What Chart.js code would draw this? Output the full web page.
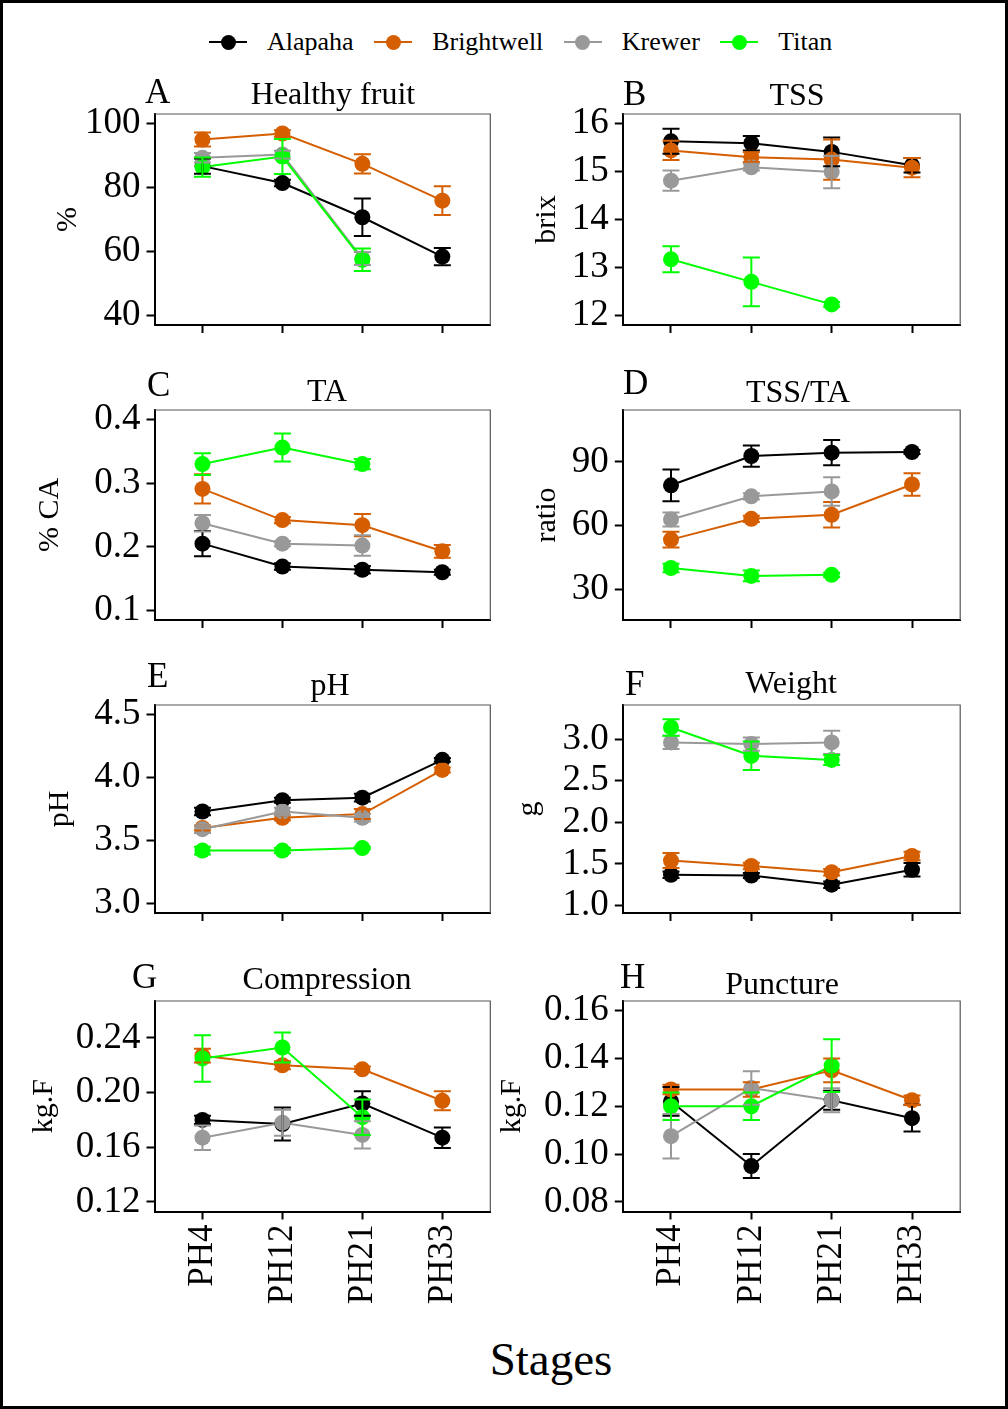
<!DOCTYPE html>
<html>
<head>
<meta charset="utf-8">
<script src="https://cdn.jsdelivr.net/npm/chart.js@4.4.1/dist/chart.umd.min.js"></script>
<style>
  html, body { margin: 0; padding: 0; background: #fff; }
  #page { position: relative; width: 1008px; height: 1409px; overflow: hidden;
          font-family: "Liberation Serif", "Times New Roman", serif; color: #000; }
  #frame { position: absolute; left: 0; top: 0; width: 1008px; height: 1409px;
           box-sizing: border-box; border: 3px solid #000; pointer-events: none; z-index: 5; }
  canvas { position: absolute; }
  #legend { position: absolute; left: 209px; top: 29px; height: 26px; display: flex; align-items: center; }
  .lg-icon { position: relative; width: 38px; height: 15px; }
  .lg-line { position: absolute; left: 0; top: 6.5px; width: 38px; height: 2px; }
  .lg-dot { position: absolute; left: 11.5px; top: 0; width: 15px; height: 15px; border-radius: 50%; }
  .lg-text { font-size: 26px; line-height: 26px; margin-left: 20px; margin-right: 20.5px; white-space: nowrap; }
  #stages { position: absolute; left: 451px; width: 200px; top: 1336px; text-align: center;
            font-size: 47px; line-height: 47px; }
</style>
</head>
<body>
<div id="page">
  <div id="legend"></div>
  <div id="stages">Stages</div>
  <div id="frame"></div>
</div>
<script>
// ---- categories ----
const stages = ['PH4', 'PH12', 'PH21', 'PH33'];
const cultivars = ['Alapaha', 'Brightwell', 'Krewer', 'Titan'];
const cultivarColors = ['#000000', '#D55E00', '#999999', '#00FF00'];

// ---- means and standard errors (rows: Alapaha, Brightwell, Krewer, Titan) ----
const healthyMean = [[86.7, 81.4, 70.7, 58.4], [95.0, 96.9, 87.4, 75.9], [89.3, 90.3, 57.8, null], [86.4, 89.7, 57.4, null]];
const healthySE   = [[2.4, 1.0, 5.9, 2.7], [2.2, 1.0, 3.0, 4.5], [1.5, 1.2, 2.0, null], [3.0, 5.5, 3.5, null]];
const healthyTicks = [40, 60, 80, 100];

const tssMean = [[15.63, 15.59, 15.41, 15.13], [15.44, 15.30, 15.25, 15.08], [14.81, 15.09, 14.99, null], [13.17, 12.70, 12.23, null]];
const tssSE   = [[0.26, 0.15, 0.30, 0.15], [0.20, 0.10, 0.42, 0.20], [0.21, 0.07, 0.34, null], [0.27, 0.51, 0.05, null]];
const tssTicks = [12, 13, 14, 15, 16];

const taMean = [[0.205, 0.169, 0.164, 0.160], [0.291, 0.242, 0.234, 0.193], [0.237, 0.205, 0.202, null], [0.330, 0.356, 0.330, null]];
const taSE   = [[0.020, 0.005, 0.006, 0.004], [0.023, 0.005, 0.0175, 0.010], [0.013, 0.004, 0.016, null], [0.017, 0.022, 0.008, null]];
const taTicks = [0.1, 0.2, 0.3, 0.4];

const ratioMean = [[79.0, 92.8, 94.4, 94.7], [53.4, 63.2, 65.1, 79.4], [62.9, 73.8, 76.1, null], [40.0, 36.3, 36.8, null]];
const ratioSE   = [[7.5, 5.0, 6.0, 1.0], [3.7, 1.5, 6.0, 5.3], [3.3, 1.5, 6.7, null], [2.0, 2.5, 1.0, null]];
const ratioTicks = [30, 60, 90];

const phMean = [[3.73, 3.82, 3.84, 4.14], [3.60, 3.68, 3.71, 4.06], [3.59, 3.73, 3.68, null], [3.42, 3.42, 3.44, null]];
const phSE   = [[0.03, 0.02, 0.03, 0.015], [0.02, 0.02, 0.04, 0.02], [0.03, 0.03, 0.03, null], [0.03, 0.02, 0.01, null]];
const phTicks = [3.0, 3.5, 4.0, 4.5];

const weightMean = [[1.37, 1.36, 1.25, 1.43], [1.54, 1.475, 1.40, 1.595], [2.96, 2.94, 2.96, null], [3.14, 2.80, 2.75, null]];
const weightSE   = [[0.04, 0.03, 0.04, 0.08], [0.09, 0.04, 0.04, 0.05], [0.08, 0.08, 0.14, null], [0.10, 0.17, 0.06, null]];
const weightTicks = [1.0, 1.5, 2.0, 2.5, 3.0];

const compMean = [[0.180, 0.177, 0.192, 0.167], [0.227, 0.220, 0.217, 0.194], [0.167, 0.178, 0.169, null], [0.225, 0.233, 0.182, null]];
const compSE   = [[0.003, 0.012, 0.009, 0.0075], [0.005, 0.003, 0.002, 0.007], [0.009, 0.0095, 0.010, null], [0.017, 0.011, 0.013, null]];
const compTicks = [0.12, 0.16, 0.20, 0.24];

const punctMean = [[0.122, 0.095, 0.1225, 0.115], [0.127, 0.127, 0.135, 0.1225], [0.1075, 0.1276, 0.1225, null], [0.120, 0.120, 0.137, null]];
const punctSE   = [[0.006, 0.005, 0.004, 0.0056], [0.002, 0.003, 0.005, 0.002], [0.0093, 0.007, 0.005, null], [0.0057, 0.0057, 0.011, null]];
const punctTicks = [0.08, 0.10, 0.12, 0.14, 0.16];

// ---- page geometry ----
const FONT = '"Liberation Serif", "Times New Roman", serif';
const colGeo = [
  { canvasX: 5,   canvasW: 495, plotL: 154.5, plotR: 490.3 },
  { canvasX: 495, canvasW: 510, plotL: 622.8, plotR: 960.2 }
];
const rowGeo = [
  { top: 114,    bottom: 325 },
  { top: 410,    bottom: 620 },
  { top: 705,    bottom: 913 },
  { top: 1000.5, bottom: 1211 }
];

const panels = [
  { tag: 'A', title: 'Healthy fruit', yTitle: '%',    mean: healthyMean, se: healthySE, ticks: healthyTicks, min: 37,    max: 103,   dp: 0, col: 0, row: 0, yTitleX: 68,  tagX: 145, tagY: 103, titleX: 333, titleY: 104 },
  { tag: 'B', title: 'TSS',           yTitle: 'brix', mean: tssMean,     se: tssSE,     ticks: tssTicks,     min: 11.8,  max: 16.2,  dp: 0, col: 1, row: 0, yTitleX: 547, tagX: 623, tagY: 105, titleX: 797, titleY: 105 },
  { tag: 'C', title: 'TA',            yTitle: '% CA', mean: taMean,      se: taSE,      ticks: taTicks,      min: 0.085, max: 0.415, dp: 1, col: 0, row: 1, yTitleX: 50,  tagX: 147, tagY: 396, titleX: 327, titleY: 401 },
  { tag: 'D', title: 'TSS/TA',        yTitle: 'ratio',mean: ratioMean,   se: ratioSE,   ticks: ratioTicks,   min: 15.5,  max: 114.5, dp: 0, col: 1, row: 1, yTitleX: 547, tagX: 623, tagY: 394, titleX: 798, titleY: 402 },
  { tag: 'E', title: 'pH',            yTitle: 'pH',   mean: phMean,      se: phSE,      ticks: phTicks,      min: 2.925, max: 4.575, dp: 1, col: 0, row: 2, yTitleX: 60,  tagX: 147, tagY: 687, titleX: 330, titleY: 695 },
  { tag: 'F', title: 'Weight',        yTitle: 'g',    mean: weightMean,  se: weightSE,  ticks: weightTicks,  min: 0.91,  max: 3.41,  dp: 1, col: 1, row: 2, yTitleX: 529, tagX: 625, tagY: 695, titleX: 791, titleY: 693 },
  { tag: 'G', title: 'Compression',   yTitle: 'kg.F', mean: compMean,    se: compSE,    ticks: compTicks,    min: 0.113, max: 0.267, dp: 2, col: 0, row: 3, yTitleX: 44,  tagX: 132, tagY: 987, titleX: 327, titleY: 988 },
  { tag: 'H', title: 'Puncture',      yTitle: 'kg.F', mean: punctMean,   se: punctSE,   ticks: punctTicks,   min: 0.076, max: 0.164, dp: 2, col: 1, row: 3, yTitleX: 512, tagX: 620, tagY: 987, titleX: 782, titleY: 993 }
];

// ---- legend ----
const legendEl = document.getElementById('legend');
cultivars.forEach((name, c) => {
  const icon = document.createElement('span');
  icon.className = 'lg-icon';
  icon.innerHTML = '<span class="lg-line" style="background:' + cultivarColors[c] + '"></span>' +
                   '<span class="lg-dot" style="background:' + cultivarColors[c] + '"></span>';
  const txt = document.createElement('span');
  txt.className = 'lg-text';
  txt.textContent = name;
  legendEl.appendChild(icon);
  legendEl.appendChild(txt);
});

// ---- panel decoration: frame, error bars, tag and title ----
function makeDecor(p, ox, oy) {
  return {
    id: 'decor' + p.tag,
    beforeDatasetsDraw(chart) {
      const { ctx, chartArea: a } = chart;
      ctx.save();
      ctx.strokeStyle = '#555';
      ctx.lineWidth = 1.2;
      ctx.beginPath();
      ctx.moveTo(a.left, a.top);
      ctx.lineTo(a.right, a.top);
      ctx.lineTo(a.right, a.bottom);
      ctx.stroke();
      ctx.restore();
    },
    afterDatasetsDraw(chart) {
      const { ctx } = chart;
      const xs = chart.scales.x, ys = chart.scales.y;
      ctx.save();
      ctx.lineWidth = 2;
      cultivars.forEach((name, c) => {
        ctx.strokeStyle = cultivarColors[c];
        stages.forEach((s, i) => {
          const m = p.mean[c][i], e = p.se[c][i];
          if (m === null || e === null) return;
          const x = xs.getPixelForValue(i + 1);
          const y1 = ys.getPixelForValue(m + e);
          const y2 = ys.getPixelForValue(m - e);
          ctx.beginPath();
          ctx.moveTo(x, y1); ctx.lineTo(x, y2);
          ctx.moveTo(x - 8.5, y1); ctx.lineTo(x + 8.5, y1);
          ctx.moveTo(x - 8.5, y2); ctx.lineTo(x + 8.5, y2);
          ctx.stroke();
        });
      });
      ctx.restore();
    },
    afterDraw(chart) {
      const { ctx } = chart;
      ctx.save();
      ctx.fillStyle = '#000';
      ctx.textBaseline = 'alphabetic';
      ctx.font = '35px ' + FONT;
      ctx.textAlign = 'left';
      ctx.fillText(p.tag, p.tagX - ox, p.tagY - oy);
      ctx.font = '32px ' + FONT;
      ctx.textAlign = 'center';
      ctx.fillText(p.title, p.titleX - ox, p.titleY - oy);
      ctx.restore();
    }
  };
}

const page = document.getElementById('page');
panels.forEach(p => {
  const cg = colGeo[p.col], rg = rowGeo[p.row];
  const lastRow = p.row === 3;
  const canvasTop = rg.top - 64;
  const xh = lastRow ? 105 : 28;
  const canvasH = Math.round(rg.bottom - canvasTop + xh);
  const padTop = rg.top - canvasTop;
  const padRight = cg.canvasX + cg.canvasW - cg.plotR;
  const xHeight = canvasTop + canvasH - rg.bottom;

  const cv = document.createElement('canvas');
  cv.width = cg.canvasW; cv.height = canvasH;
  cv.style.left = cg.canvasX + 'px';
  cv.style.top = canvasTop + 'px';
  cv.style.width = cg.canvasW + 'px';
  cv.style.height = canvasH + 'px';
  page.insertBefore(cv, document.getElementById('frame'));

  const datasets = [];
  cultivars.forEach((name, c) => {
    const pts = stages.map((s, i) => ({ x: i + 1, y: p.mean[c][i] }));
    // connecting lines sit below every point
    datasets.push({ label: name, data: pts, borderColor: cultivarColors[c], borderWidth: 2,
                    pointRadius: 0, pointHoverRadius: 0, fill: false, spanGaps: false,
                    order: 10 + (3 - c), clip: false });
    datasets.push({ label: name, data: pts, showLine: false, pointRadius: 8, pointHoverRadius: 8,
                    pointBackgroundColor: cultivarColors[c], pointBorderWidth: 0,
                    borderColor: cultivarColors[c], order: 3 - c, clip: false });
  });

  const tickGrid = { display: true, drawOnChartArea: false, drawTicks: true, tickLength: 8,
                     tickWidth: 2, tickColor: '#000' };
  const axisBorder = { display: true, color: '#000', width: 2 };

  new Chart(cv, {
    type: 'line',
    data: { datasets },
    options: {
      responsive: false,
      animation: false,
      devicePixelRatio: 1,
      events: [],
      layout: { padding: { left: 0, top: padTop, right: padRight, bottom: 0 } },
      plugins: { legend: { display: false }, tooltip: { enabled: false }, title: { display: false } },
      scales: {
        x: {
          type: 'linear', min: 0.4, max: 4.6,
          afterBuildTicks: s => { s.ticks = stages.map((_, i) => ({ value: i + 1 })); },
          afterFit: s => { s.height = xHeight; s.paddingLeft = 0; s.paddingRight = 0; },
          ticks: { display: lastRow, color: '#000', font: { family: FONT, size: 35 }, padding: 5,
                   minRotation: 90, maxRotation: 90, autoSkip: false,
                   callback: v => stages[Math.round(v) - 1] },
          grid: tickGrid,
          border: axisBorder
        },
        y: {
          type: 'linear', min: p.min, max: p.max,
          afterBuildTicks: s => { s.ticks = p.ticks.map(v => ({ value: v })); },
          afterFit: s => { s.width = cg.plotL - cg.canvasX; s.paddingTop = 0; s.paddingBottom = 0; },
          ticks: { color: '#000', font: { family: FONT, size: 37 }, padding: 6,
                   callback: v => Number(v).toFixed(p.dp) },
          grid: tickGrid,
          border: axisBorder,
          title: { display: true, text: p.yTitle, color: '#000',
                   font: { family: FONT, size: 30, lineHeight: 1 },
                   padding: { top: p.yTitleX - cg.canvasX - 15, bottom: 0 } }
        }
      }
    },
    plugins: [makeDecor(p, cg.canvasX, canvasTop)]
  });
});
</script>
</body>
</html>
